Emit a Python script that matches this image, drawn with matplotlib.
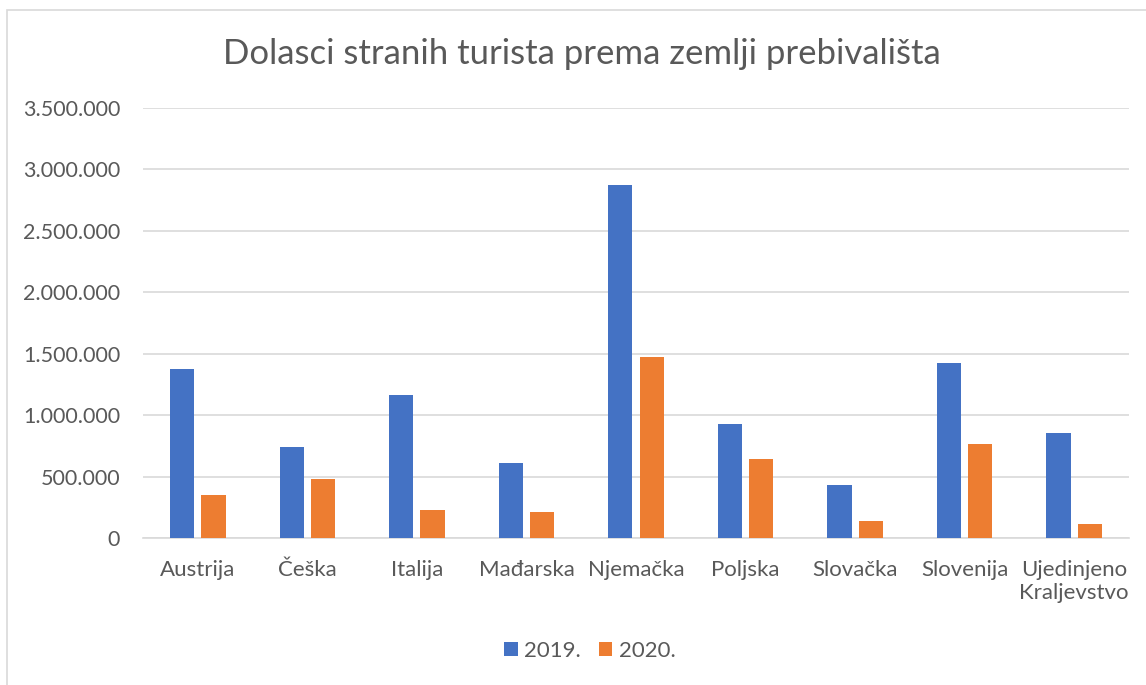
import numpy as np
import matplotlib
matplotlib.use("Agg")
import matplotlib.pyplot as plt
from matplotlib.patches import Rectangle
from matplotlib.ticker import FuncFormatter

plt.rcParams["font.family"] = ["Lato", "DejaVu Sans"]

countries = ["Austrija", "Češka", "Italija", "Mađarska", "Njemačka", "Poljska",
             "Slovačka", "Slovenija", "Ujedinjeno\nKraljevstvo"]
y2019 = [1375000, 739000, 1168000, 611000, 2872000, 924000, 435000, 1421000, 856000]
y2020 = [353000, 478000, 226000, 209000, 1473000, 639000, 141000, 764000, 111000]
yticks = [0, 500000, 1000000, 1500000, 2000000, 2500000, 3000000, 3500000]

blue = "#4472C4"
orange = "#ED7D31"
text_col = "#595959"
grid_col = "#D9D9D9"

fig = plt.figure(figsize=(11.46, 6.85), dpi=100)
ax = fig.add_axes([143 / 1146, 1 - 538 / 685, (1129 - 143) / 1146, (538 - 108) / 685])

x = np.arange(len(countries))
w = 0.222
ax.bar(x - 0.143, y2019, w, color=blue, label="2019.", zorder=3)
ax.bar(x + 0.143, y2020, w, color=orange, label="2020.", zorder=3)

ax.set_xlim(-0.5, len(countries) - 0.5)
ax.set_ylim(0, 3500000)
ax.set_yticks(yticks)
ax.yaxis.set_major_formatter(FuncFormatter(lambda v, p: f"{int(v):,}".replace(",", ".")))
ax.set_xticks(x)
ax.set_xticklabels(countries, fontsize=16, color=text_col, linespacing=1.15)
ax.tick_params(axis="y", labelsize=15.5, colors=text_col, length=0, pad=16.5)
ax.tick_params(axis="x", length=0, pad=16)
ax.grid(axis="y", color=grid_col, linewidth=1.2, zorder=0)
for s in ["top", "right", "left"]:
    ax.spines[s].set_visible(False)
ax.spines["bottom"].set_color(grid_col)
ax.spines["bottom"].set_linewidth(1.2)

fig.text(0.508, 1 - 54 / 685, "Dolasci stranih turista prema zemlji prebivališta",
         ha="center", va="center", fontsize=25, color=text_col)

leg = fig.legend(loc="center", bbox_to_anchor=(590 / 1146, 1 - 651 / 685), ncol=2,
                 frameon=False, fontsize=16, handlelength=0.6, handleheight=0.6,
                 handletextpad=0.3, columnspacing=0.8)
for t in leg.get_texts():
    t.set_color(text_col)

fig.patches.append(Rectangle((7 / 1146, -0.05), 1.2, 1 - 10 / 685 + 0.05,
                             transform=fig.transFigure, fill=False,
                             edgecolor=grid_col, linewidth=1.2))

fig.savefig("out.png", dpi=100)
